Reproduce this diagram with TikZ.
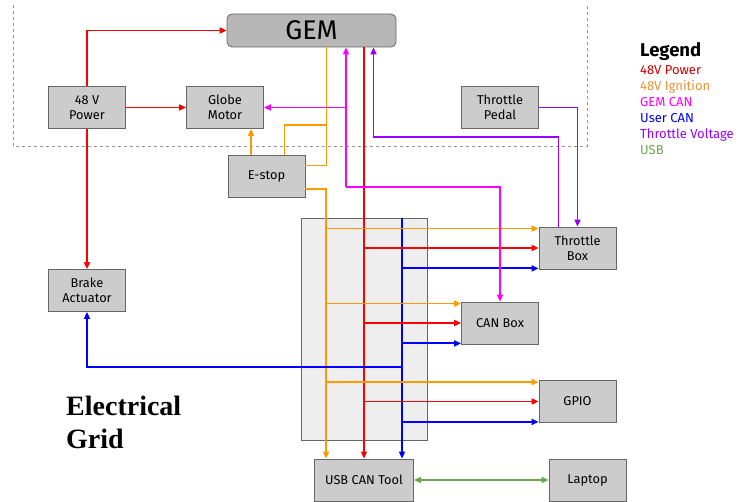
\documentclass[tikz,border=0pt]{standalone}
\usepackage{fontspec}
\setmainfont{Fira Sans}
\newfontfamily\titlefont{Liberation Serif}
\usetikzlibrary{arrows.meta}

\definecolor{boxfill}{HTML}{CCCCCC}
\definecolor{gemfill}{HTML}{B7B7B7}
\definecolor{gridfill}{HTML}{EEEEEE}
\definecolor{boxline}{HTML}{666666}
\definecolor{pw}{HTML}{FF0000}
\definecolor{pwtxt}{HTML}{CC0000}
\definecolor{ig}{HTML}{FF9900}
\definecolor{igtxt}{HTML}{E69138}
\definecolor{gcan}{HTML}{FF00FF}
\definecolor{ucan}{HTML}{0000FF}
\definecolor{thr}{HTML}{9900FF}
\definecolor{usbc}{HTML}{6AA84F}

\begin{document}
\begin{tikzpicture}[x=1pt,y=-1pt,
    >={Triangle[length=7pt,width=6pt]},
    box/.style={draw=boxline, fill=boxfill, line width=0.8pt, align=center,
        inner sep=0pt, minimum width=77pt, minimum height=42pt,
        font=\fontsize{12.8}{15}\selectfont},
    wire/.style={line width=1.8pt},
    pow/.style={wire, draw=pw},
    ign/.style={wire, draw=ig},
    gcanl/.style={wire, draw=gcan},
    ucanl/.style={wire, draw=ucan},
    thrl/.style={wire, draw=thr},
    usbl/.style={wire, draw=usbc}]
    \useasboundingbox (0,0) rectangle (747,502);
    \draw[dashed, boxline!70, line width=0.6pt] (13,5) |- (587,146) -- (587,5);

    \node[draw=boxline, fill=gridfill, line width=0.8pt, minimum width=126pt, minimum height=222pt] (grid) at (364,329) {};
    \node[box, minimum width=169pt, minimum height=33pt, rounded corners=5pt, fill=gemfill,
        font=\fontsize{27}{30}\selectfont] (gem) at (311.5,30.5) {GEM};
    \node[box] (power) at (87,107.5) {48 V\\Power};
    \node[box] (globe) at (225,107.5) {Globe\\Motor};
    \node[box] (estop) at (266.5,176) {E-stop};
    \node[box] (pedal) at (500,107.5) {Throttle\\Pedal};
    \node[box] (brake) at (87,290.5) {Brake\\Actuator};
    \node[box] (tbox) at (577.5,248) {Throttle\\Box};
    \node[box] (canbox) at (500,323) {CAN Box};
    \node[box] (gpio) at (577.5,401.5) {GPIO};
    \node[box, minimum width=99pt] (usb) at (364,480) {USB CAN Tool};
    \node[box] (laptop) at (587.5,480) {Laptop};

    \coordinate (io) at ([xshift=-38pt]usb.north);
    \coordinate (ib) at ([xshift=38pt]usb.north);
    \coordinate (m) at (346,187);

    \draw[pow,->] (power.north) |- (gem.west);
    \draw[pow,->] (power) -- (globe);
    \draw[pow,->] (power) -- (brake);
    \draw[pow,->] (gem.south -| usb.north) -- (usb.north);

    \draw[ign] ([xshift=15pt]gem.south) coordinate (g1) |- ([yshift=-11pt]estop.north east);
    \draw[ign] ([xshift=18pt]estop.north) |- (g1 |- 0,125);
    \draw[ign,<-] ([xshift=26pt]globe.south) coordinate (e) -- (e |- estop.north);
    \draw[ign,->] ([yshift=8pt]estop.south east) -| (io);

    \draw[ucanl,->] (ib |- grid.north) -- (ib);
    \draw[ucanl,->] (ib |- 0,367) -| (brake.south);

    \foreach \b in {tbox,canbox,gpio} {
        \draw[ign,<-] ([yshift=-2pt]\b.north west) coordinate (e) -- (e -| io);
        \draw[pow,<-] (\b.west) -- (\b.west -| usb.north);
        \draw[ucanl,<-] ([yshift=1pt]\b.south west) coordinate (e) -- (e -| ib);
    }

    \draw[gcanl,->] (m) -- (m |- gem.south);
    \draw[gcanl,->] (m |- globe.east) -- (globe.east);
    \draw[gcanl,->] (m) -| (canbox.north);

    \draw[thrl,<-] ([xshift=62pt]gem.south) coordinate (e) -- (e |- 0,137) -| ([xshift=-19pt]tbox.north);
    \draw[thrl,->] (pedal.east) -| (tbox.north);

    \draw[usbl,<->] (usb) -- (laptop);

    \node[anchor=base west, inner sep=0pt, font=\fontsize{18.5}{21}\selectfont\bfseries] (legend) at (640,57) {Legend};
    \foreach \col/\txt [count=\i] in {pwtxt/48V Power, igtxt/48V Ignition, gcan/GEM CAN,
        ucan/User CAN, thr/Throttle Voltage, usbc/USB} {
        \node[anchor=base west, inner sep=0pt, text=\col, font=\fontsize{13}{15}\selectfont] (leg\i) at (640,59+16*\i) {\txt};
    }

    \node[anchor=north west, align=left, inner sep=0pt,
        font=\titlefont\fontsize{28}{32.5}\selectfont\bfseries] (title) at (66,396) {Electrical\\Grid};
\end{tikzpicture}
\end{document}
